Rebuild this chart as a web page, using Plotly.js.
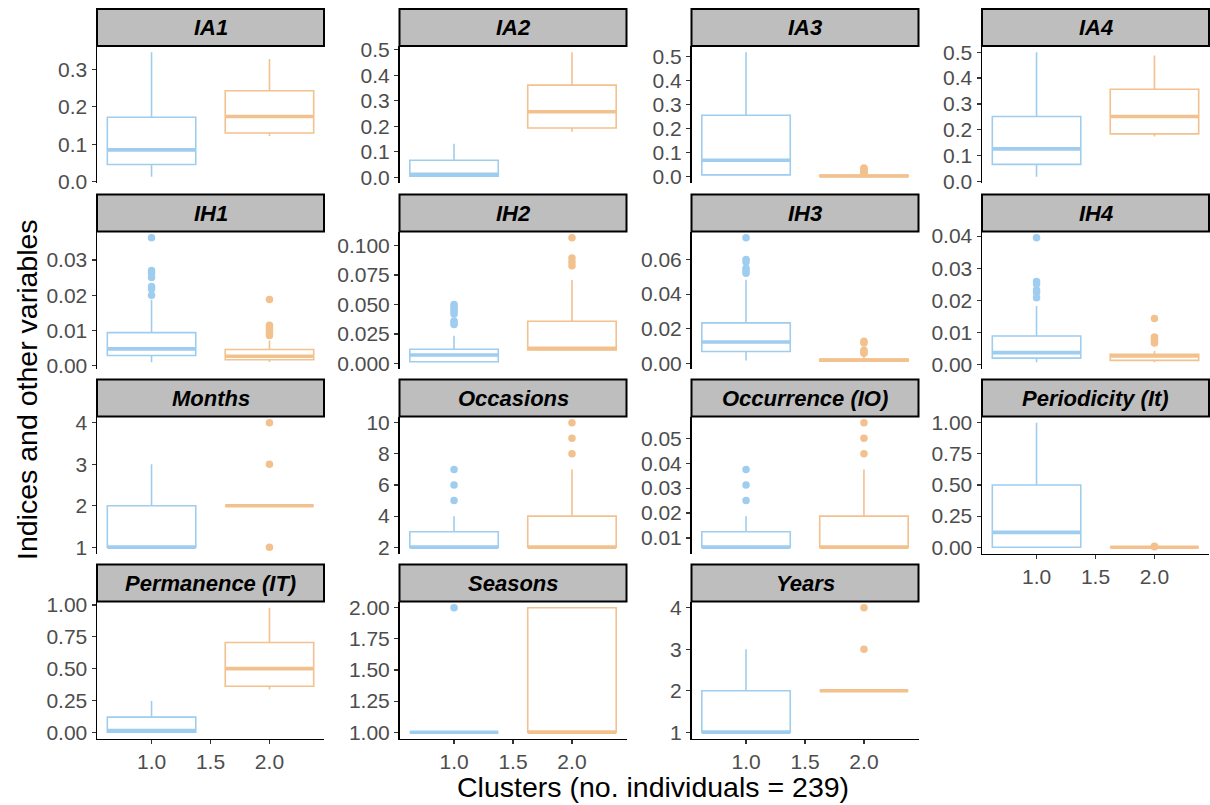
<!DOCTYPE html>
<html>
<head>
<meta charset="utf-8">
<script src="https://cdn.plot.ly/plotly-3.0.1.min.js"></script>
<style>
html,body{margin:0;padding:0;background:#fff;}
#chart{width:1210px;height:805px;}
</style>
</head>
<body>
<div id="chart"></div>
<script>
// ---- Data ----
const panels = ["IA1","IA2","IA3","IA4","IH1","IH2","IH3","IH4","Months","Occasions","Occurrence (IO)","Periodicity (It)","Permanence (IT)","Seasons","Years"];
const clusters = [1, 2];
const xTickVals = [1, 1.5, 2];
const xTickText = ["1.0", "1.5", "2.0"];

// Cluster 1 (blue)
const c1Lower  = [0.013, 0.002, 0.006, 0.018, 0.0010, 0.0010, 0.0016, 0.0007, 1, 2, 0.00625, 0,    0,     1, 1];
const c1Q1     = [0.046, 0.004, 0.008, 0.066, 0.0029, 0.0014, 0.0068, 0.0020, 1, 2, 0.00625, 0,    0,     1, 1];
const c1Median = [0.085, 0.012, 0.069, 0.126, 0.0048, 0.0072, 0.0123, 0.0037, 1, 2, 0.00625, 0.12, 0.013, 1, 1];
const c1Q3     = [0.172, 0.067, 0.256, 0.251, 0.0094, 0.0120, 0.0234, 0.0089, 2, 3, 0.0125,  0.5,  0.119, 1, 2];
const c1Upper  = [0.346, 0.131, 0.518, 0.500, 0.0187, 0.0235, 0.0483, 0.0182, 3, 4, 0.01875, 1.0,  0.246, 1, 3];
const c1Outliers = [
  [], [], [], [],
  [0.0363, 0.0270, 0.0262, 0.0250, 0.0225, 0.0218, 0.0200],
  [0.0500, 0.0480, 0.0460, 0.0440, 0.0420, 0.0360, 0.0345, 0.0330],
  [0.0726, 0.0600, 0.0585, 0.0550, 0.0535, 0.0520],
  [0.0395, 0.0259, 0.0251, 0.0232, 0.0224, 0.0208],
  [],
  [7, 6, 5],
  [0.0375, 0.03125, 0.025],
  [], [],
  [2],
  []
];

// Cluster 2 (orange)
const c2Lower  = [0.122, 0.178, 0.000, 0.174, 0.0011, 0.0110, 0.0006, 0.0007, 2, 2, 0.00625, 0, 0.336, 1, 2];
const c2Q1     = [0.130, 0.193, 0.001, 0.184, 0.0017, 0.0115, 0.0012, 0.0013, 2, 2, 0.00625, 0, 0.362, 1, 2];
const c2Median = [0.174, 0.257, 0.003, 0.251, 0.0027, 0.0128, 0.0018, 0.0027, 2, 2, 0.00625, 0, 0.500, 1, 2];
const c2Q3     = [0.243, 0.361, 0.006, 0.357, 0.0046, 0.0358, 0.0025, 0.0032, 2, 4, 0.01875, 0, 0.706, 2, 2];
const c2Upper  = [0.328, 0.490, 0.011, 0.487, 0.0072, 0.0708, 0.0045, 0.0042, 2, 7, 0.0375,  0, 0.979, 2, 2];
const c2Outliers = [
  [], [],
  [0.013, 0.017, 0.021, 0.025, 0.029, 0.033, 0.037],
  [],
  [0.0188, 0.0115, 0.0108, 0.0100, 0.0093, 0.0086],
  [0.1066, 0.0894, 0.0860, 0.0828],
  [0.0128, 0.0118, 0.0075, 0.0065, 0.0058],
  [0.0143, 0.0086, 0.0080, 0.0074, 0.0067],
  [4, 3, 1],
  [10, 9, 8],
  [0.05625, 0.05, 0.04375],
  [0.008, 0.004],
  [], [],
  [4, 3]
];

// y tick settings per panel
const yDtick = [0.1, 0.1, 0.1, 0.1, 0.01, 0.025, 0.02, 0.01, 1, 2, 0.01, 0.25, 0.25, 0.25, 1];
const yTickFormat = [".1f", ".1f", ".1f", ".1f", ".2f", ".3f", ".2f", ".2f", "d", "d", ".2f", ".2f", ".2f", ".2f", "d"];

const xLabel = "Clusters (no. individuals = 239)";
const yLabel = "Indices and other variables";

// ---- Styling / layout geometry ----
const W = 1210, H = 805;
const colLeft = [97, 399.5, 691.5, 982];
const panelW = 227;
const rowTop = [46, 231.5, 416.5, 601.5];
const panelH = 137;
const stripH = 37;
const colors = ["#9FCDEF", "#F2C18D"];
const FONT = "Liberation Sans, Arial, sans-serif";
const boxWidth = 0.75;
const xRange = [0.5375, 2.4625];
const bottomPanels = [11, 12, 13, 14];

const stats = [
  {lower: c1Lower, q1: c1Q1, med: c1Median, q3: c1Q3, upper: c1Upper, out: c1Outliers},
  {lower: c2Lower, q1: c2Q1, med: c2Median, q3: c2Q3, upper: c2Upper, out: c2Outliers}
];

const traces = [];
const layout = {
  width: W, height: H,
  margin: {l: 0, r: 0, t: 0, b: 0},
  paper_bgcolor: "#fff", plot_bgcolor: "#fff",
  showlegend: false,
  boxmode: "overlay",
  font: {family: FONT},
  shapes: [], annotations: []
};

panels.forEach((name, i) => {
  const row = Math.floor(i / 4), col = i % 4;
  const sfx = i === 0 ? "" : String(i + 1);
  const xa = "x" + sfx, ya = "y" + sfx;
  const left = colLeft[col], top = rowTop[row];

  let allVals = [];
  stats.forEach((s, k) => {
    const pos = clusters[k];
    traces.push({
      type: "box", x: [pos], xaxis: xa, yaxis: ya,
      q1: [s.q1[i]], median: [s.med[i]], q3: [s.q3[i]],
      lowerfence: [s.lower[i]], upperfence: [s.upper[i]],
      width: boxWidth, whiskerwidth: 0, boxpoints: false,
      line: {color: colors[k], width: 1.6},
      fillcolor: "rgba(255,255,255,0)",
      hoverinfo: "skip"
    });
    traces.push({
      type: "scatter", mode: "lines", xaxis: xa, yaxis: ya,
      x: [pos - boxWidth / 2, pos + boxWidth / 2], y: [s.med[i], s.med[i]],
      line: {color: colors[k], width: 3.6}, hoverinfo: "skip"
    });
    if (s.out[i].length) {
      traces.push({
        type: "scatter", mode: "markers", xaxis: xa, yaxis: ya,
        x: s.out[i].map(() => pos), y: s.out[i],
        marker: {color: colors[k], size: 7.5, line: {width: 0}}, hoverinfo: "skip"
      });
    }
    allVals = allVals.concat([s.lower[i], s.upper[i]], s.out[i]);
  });
  const mn = Math.min(...allVals), mx = Math.max(...allVals);
  const pad = (mx - mn) * 0.05;

  const isBottom = bottomPanels.includes(i);
  layout["xaxis" + sfx] = {
    domain: [left / W, (left + panelW) / W],
    anchor: ya, range: xRange, showgrid: false, zeroline: false,
    showline: isBottom, linecolor: "#000", linewidth: 1.5,
    ticks: isBottom ? "outside" : "", ticklen: 4, tickwidth: 1.2, tickcolor: "#333",
    tickvals: xTickVals, ticktext: xTickText,
    showticklabels: isBottom,
    tickfont: {family: FONT, size: 21, color: "#4D4D4D"}
  };
  layout["yaxis" + sfx] = {
    domain: [1 - (top + panelH) / H, 1 - top / H],
    anchor: xa, range: [mn - pad, mx + pad], showgrid: false, zeroline: false,
    showline: true, linecolor: "#000", linewidth: 1.5,
    ticks: "outside", ticklen: 4, tickwidth: 1.2, tickcolor: "#333",
    tick0: 0, dtick: yDtick[i], tickformat: yTickFormat[i],
    tickfont: {family: FONT, size: 21, color: "#4D4D4D"}
  };

  // strip
  layout.shapes.push({
    type: "rect", xref: "paper", yref: "paper",
    x0: left / W, x1: (left + panelW) / W,
    y0: 1 - top / H, y1: 1 - (top - stripH) / H,
    fillcolor: "#BEBEBE", line: {color: "#000", width: 2}
  });
  layout.annotations.push({
    xref: "paper", yref: "paper",
    x: (left + panelW / 2) / W, y: 1 - (top - stripH / 2) / H,
    text: "<b><i>" + name + "</i></b>", showarrow: false,
    xanchor: "center", yanchor: "middle",
    font: {family: FONT, size: 22, color: "#000"}
  });
});

layout.annotations.push({
  xref: "paper", yref: "paper", x: 653 / W, y: 1 - 787 / H,
  text: xLabel, showarrow: false, xanchor: "center", yanchor: "middle",
  font: {family: FONT, size: 28.5, color: "#000"}
});
layout.annotations.push({
  xref: "paper", yref: "paper", x: 27 / W, y: 1 - 390 / H,
  text: yLabel, showarrow: false, textangle: -90, xanchor: "center", yanchor: "middle",
  font: {family: FONT, size: 28.5, color: "#000"}
});

Plotly.newPlot("chart", traces, layout, {displayModeBar: false, staticPlot: true});
</script>
</body>
</html>
